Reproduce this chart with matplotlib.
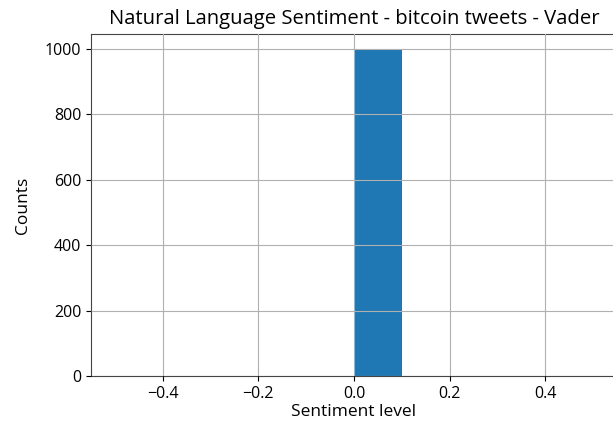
import matplotlib
matplotlib.use("Agg")
import matplotlib.pyplot as plt

plt.rcParams['font.family'] = ['Open Sans', 'DejaVu Sans']

# Histogram of compound sentiment scores (10 bins over [-0.5, 0.5])
bin_edges = [-0.5, -0.4, -0.3, -0.2, -0.1, 0.0, 0.1, 0.2, 0.3, 0.4, 0.5]
bin_counts = [0, 0, 0, 0, 0, 995, 0, 0, 0, 0]

fig = plt.figure(figsize=(6.13, 4.23), dpi=100)
ax = fig.add_axes([91 / 613, 1 - 376 / 423, 526 / 613, 342 / 423])

ax.hist(bin_edges[:-1], bins=bin_edges, weights=bin_counts, color='#1f77b4')
ax.set_xlim(-0.55, 0.55)
ax.set_ylim(0, 1044.75)
ax.set_axisbelow(False)
ax.grid(True, color='#b0b0b0', linewidth=0.8)
for s in ax.spines.values():
    s.set_color('#444444')

ax.set_title('Natural Language Sentiment - bitcoin tweets - Vader', fontsize=14.6, pad=7)
ax.set_xlabel('Sentiment level', fontsize=12.5, labelpad=2)
ax.set_ylabel('Counts', fontsize=12.5, labelpad=10)
ax.tick_params(labelsize=11.5)

fig.savefig('out.png', dpi=100)
